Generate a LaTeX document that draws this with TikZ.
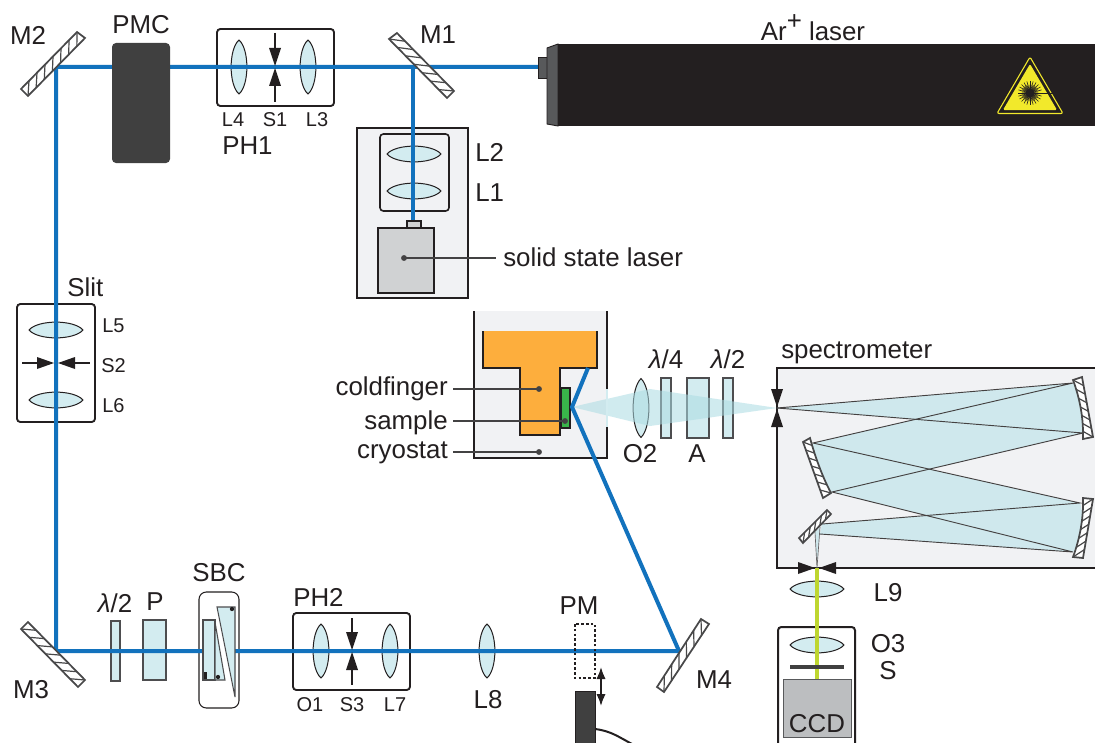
\documentclass[tikz,border=0pt]{standalone}
\usepackage{fontspec}
\setmainfont{Liberation Sans}
\usetikzlibrary{arrows.meta,calc}
\definecolor{ink}{HTML}{231F20}
\definecolor{beam}{HTML}{1272BD}
\definecolor{glass}{HTML}{D3ECF0}
\definecolor{cone}{HTML}{ABDCE3}
\definecolor{lightgray}{HTML}{F1F2F4}
\definecolor{midgray}{HTML}{D0D2D3}
\definecolor{darkbox}{HTML}{404040}
\definecolor{noseg}{HTML}{58595B}
\definecolor{warnyellow}{HTML}{F2E92B}
\definecolor{spec}{HTML}{CFE8ED}
\definecolor{ccdgray}{HTML}{BCBEC0}
\definecolor{finger}{HTML}{FDAE3D}
\definecolor{samplegreen}{HTML}{39B54A}
\definecolor{lime}{HTML}{BED630}
\tikzset{
  lab/.style={font=\fontsize{19.4}{21}\selectfont,text=ink,inner sep=0pt},
  smalllab/.style={font=\fontsize{15}{17}\selectfont,text=ink,inner sep=0pt},
  lensstyle/.style={draw=ink,line width=0.75pt,fill=glass},
  vlens/.pic={\path[lensstyle] (0,-27) .. controls (-10.5,-18) and (-10.5,18) .. (0,27) .. controls (10.5,18) and (10.5,-18) .. (0,-27) -- cycle;},
  beamline/.style={draw=beam,line width=3pt},
  holder/.style={draw=ink,line width=1.4pt,rounded corners=2.5pt},
  plate/.style={draw=noseg!80!ink,line width=1pt,fill=glass},
  mirrorbox/.style={draw=noseg!70!ink,line width=1.3pt,fill=white},
  hatchline/.style={draw=noseg!70!ink,line width=0.9pt},
  stem/.style={draw=ink,line width=1.1pt},
  tip/.style={fill=ink},
  leader/.style={draw=noseg!60!ink,line width=1.2pt},
  ray/.style={draw=ink!85,line width=0.7pt},
}
\newcommand{\hatchedmirror}[5]{%
  \path[mirrorbox] #1 -- #2 -- #3 -- #4 -- cycle;
  \foreach \i in {1,...,#5}{
    \pgfmathsetmacro{\ta}{(\i-1)/#5}
    \pgfmathsetmacro{\tb}{\i/#5}
    \path[hatchline] ($#1!\ta!#4$) -- ($#2!\tb!#3$);
  }
}
\newcommand{\curvedmirror}[8]{% inner-a, outer-b, outer-c, inner-d, ctl1, ctl2, n, swap
  \begin{scope}
    \path[fill=white] #1 .. controls #5 and #6 .. #4 -- #3 -- #2 -- cycle;
    \clip #1 .. controls #5 and #6 .. #4 -- #3 -- #2 -- cycle;
    \foreach \i in {1,...,#7}{
      \pgfmathsetmacro{\ta}{(\i-1+#8)/#7}
      \pgfmathsetmacro{\tb}{(\i-#8)/#7}
      \path[hatchline] ($#1!\ta!#4$) -- ($#2!\tb!#3$);
    }
  \end{scope}
  \path[draw=noseg!70!ink,line width=1.3pt] #1 .. controls #5 and #6 .. #4 -- #3 -- #2 -- cycle;
}
\begin{document}
\begin{tikzpicture}[x=0.75pt,y=-0.75pt]
\useasboundingbox (0,0) rectangle (1095,742);
\clip (0,0) rectangle (1095,742);
\fill[white] (0,0) rectangle (1095,742);

% ---- named beam points
\coordinate (laserexit) at (538,67);
\coordinate (bm1) at (413,67);
\coordinate (bm2) at (56,67);
\coordinate (bm3) at (56,651);
\coordinate (bm4) at (679,651);
\coordinate (bsample) at (572,407);
\coordinate (bup) at (588,368);
\coordinate (bsolid) at (413,221);
\coordinate (slitin) at (777,408);
\coordinate (slitout) at (817,568);

% ---- solid state laser enclosure
\path[draw=ink,line width=1.2pt,fill=lightgray] (357,128) rectangle (468,298);
\path[holder,line width=1.2pt,fill=lightgray] (380,134) rectangle (449,211);
\pic[rotate=90] at (414,154) {vlens};
\pic[rotate=90] at (414,191) {vlens};

% ---- holders and lenses
\path[holder] (217,29) rectangle (334,106);
\pic at (239,67) {vlens};
\pic at (308,67) {vlens};
\path[holder] (17,304) rectangle (95,422);
\pic[rotate=90] at (56,330) {vlens};
\pic[rotate=90] at (56,400) {vlens};
\path[holder] (293,613) rectangle (410,690);
\pic at (321,651) {vlens};
\pic at (390,651) {vlens};
\pic at (487,651) {vlens};

% ---- polarisation optics, bottom row
\path[plate] (111,621) rectangle (120,681);
\path[plate] (143,620) rectangle (166,680);
\path[draw=ink,line width=0.8pt,fill=white,rounded corners=5.5pt] (199,592) rectangle (239,708);

% ---- cryostat
\path[fill=lightgray] (474,311) rectangle (607,458);
\path[draw=ink,line width=1.4pt] (474,311) -- (474,458) -- (607,458) -- (607,427);
\path[draw=ink,line width=1.4pt] (607,311) -- (607,389);
\path[fill=finger] (483,331) -- (597,331) -- (597,368) -- (560,368) -- (560,435) -- (520,435) -- (520,368) -- (483,368) -- cycle;
\path[draw=ink,line width=1.1pt] (483,331) -- (483,368) -- (520,368) -- (520,435) -- (560,435) -- (560,368) -- (597,368) -- (597,331);
\path[draw=ink,line width=1.3pt,fill=samplegreen] (561,388) rectangle (570,428);

% ---- spectrometer box
\path[draw=ink,line width=1.2pt,fill=lightgray] (777,368) rectangle (1100,568);

% ---- light in the spectrometer
\path[fill=spec] (slitin) -- (1073,383) -- (1086,408) -- (1083,433) -- cycle;
\path[fill=spec] (1073,383) -- (813,443) -- (816,467) -- (832,492) -- (1083,433) -- (1086,408) -- cycle;
\path[fill=spec] (813,443) -- (1080,503) -- (1085,528) -- (1073,552) -- (832,492) -- (816,467) -- cycle;
\path[fill=spec] (1080,503) -- (822,524) -- (820,534) -- (1073,552) -- (1085,528) -- cycle;
\path[fill=spec] (815,532) -- (820,527) -- (slitout) -- cycle;
\path[ray] (slitin) -- (1073,383) -- (813,443) -- (1080,503) -- (822,524);
\path[ray] (slitin) -- (1083,433) -- (832,492) -- (1073,552) -- (820,534);
\path[draw=ink!70,line width=0.5pt] (815,532) -- (slitout) -- (820,527);

% ---- curved spectrometer mirrors
\curvedmirror{(1073,380)}{(1082,377)}{(1093,437)}{(1083,439)}{(1080,399)}{(1083.6,418.6)}{7}{0}
\curvedmirror{(810,438)}{(803,442)}{(823,498)}{(831,493)}{(815.2,456.9)}{(821.8,475.5)}{7}{1}
\curvedmirror{(1083,498)}{(1093,499)}{(1083,558)}{(1073,557)}{(1083.6,518)}{(1080,538)}{7}{1}
\hatchedmirror{(803,543)}{(799,538)}{(827,510)}{(831,514)}{5}

% ---- detection optics
\pic at (641,408) [yscale=1.09] {vlens};
\path[plate] (661,378) rectangle (671,438);
\path[plate] (687,378) rectangle (709,438);
\path[plate] (723,378) rectangle (733,438);
\path[fill=cone,opacity=0.55] (bsample) -- (650,389) -- (slitin) -- (650,426) -- cycle;
\path[draw=glass,line width=1.2pt] (607,389) -- (607,427);

% ---- CCD
\path[holder,fill=white,line width=1.5pt] (778,627) rectangle (855,750);
\path[fill=ccdgray,draw=noseg,line width=0.6pt] (783,679) rectangle (851,737);
\pic[rotate=90] at (817,589) {vlens};
\pic[rotate=90] at (817,645) {vlens};
\path[draw=lime,line width=2.4pt] (slitout) -- (817,679);
\path[draw=darkbox,line width=2.6pt] (790,667) -- (844,667);

% ---- beams
\path[beamline,line join=miter] (laserexit) -- (bm2) -- (bm3) -- (bm4) -- (bsample) -- (bup);
\path[beamline] (bm1) -- (bsolid);

% ---- SBC insides (over the beam)
\path[fill=white] (215,612) rectangle (235,700);
\path[plate,line width=0.8pt] (203,620) rectangle (215,680);
\path[plate,line width=0.8pt] (215,622) -- (225,680) -- (215,680) -- cycle;
\path[plate,line width=0.8pt] (217,607) -- (235,607) -- (235,697) -- cycle;
\fill[ink] (232,609) circle (1.6pt);
\fill[ink] (218,677) circle (1.6pt);
\fill[ink] (204,672) rectangle (206.5,679);

% ---- mirrors
\hatchedmirror{(389,39)}{(397,33)}{(454,91)}{(447,98)}{7}
\hatchedmirror{(28,96)}{(21,89)}{(77,32)}{(85,38)}{7}
\hatchedmirror{(21,629)}{(28,622)}{(85,680)}{(78,687)}{7}
\hatchedmirror{(664,692)}{(657,687)}{(701,619)}{(709,624)}{6}

% ---- PMC, solid laser body
\path[fill=darkbox,rounded corners=3pt] (112,43) rectangle (170,163);
\path[draw=ink,line width=0.8pt,fill=midgray] (407,221) rectangle (421,228);
\path[draw=ink,line width=0.8pt,fill=midgray] (378,228) rectangle (434,293);

% ---- Ar+ laser
\path[fill=noseg,draw=ink,line width=0.7pt] (538,57) rectangle (547,78);
\path[fill=noseg,draw=ink,line width=0.7pt] (547,48) -- (558,44) -- (558,126) -- (547,124) -- cycle;
\path[fill=ink] (558,44) rectangle (1100,126);
\path[fill=ink,draw=warnyellow,line width=0.8pt,line join=round,rounded corners=1.5pt] (1030,57) -- (1063,113.5) -- (997,113.5) -- cycle;
\path[fill=warnyellow,line join=round,rounded corners=1pt] (1030,64) -- (1057,110) -- (1003,110) -- cycle;
\foreach \a in {0,15,...,345}{
  \path[draw=ink,line width=0.45pt] (1030,93) -- ++(\a:12);
}
\foreach \a in {7.5,22.5,...,352.5}{
  \path[draw=ink,line width=0.45pt] (1030,93) -- ++(\a:8.5);
}
\path[fill=ink] (1030,93) circle (3.4pt);
\path[draw=ink,line width=0.7pt] (1018,93) -- (1053,93);
\path[draw=ink,line width=0.7pt] (1030,81) -- (1030,105);

% ---- slits and arrows
\path[stem] (275,33) -- (275,50);
\path[tip] (269,48) -- (281,48) -- (275,66) -- cycle;
\path[stem] (275,84) -- (275,102);
\path[tip] (269,86) -- (281,86) -- (275,68) -- cycle;
\path[stem] (352,618) -- (352,634);
\path[tip] (346,632) -- (358,632) -- (352,650) -- cycle;
\path[stem] (352,668) -- (352,685);
\path[tip] (346,670) -- (358,670) -- (352,652) -- cycle;
\path[stem] (22,363) -- (39,363);
\path[tip] (37,357) -- (37,369) -- (54,363) -- cycle;
\path[stem] (73,363) -- (90,363);
\path[tip] (75,357) -- (75,369) -- (58,363) -- cycle;
\path[tip] (771,389) -- (783,389) -- (777,407) -- cycle;
\path[tip] (771,427) -- (783,427) -- (777,409) -- cycle;
\path[tip] (798,562) -- (798,574) -- (815,568) -- cycle;
\path[tip] (836,562) -- (836,574) -- (819,568) -- cycle;

% ---- power meter
\path[draw=ink,line width=0.8pt,dash pattern=on 2pt off 1.6pt] (575,624) rectangle (595,678);
\path[fill=darkbox,draw=ink,line width=0.5pt] (575,691) rectangle (595,750);
\path[draw=ink,line width=1.3pt,{Latex[length=9pt,width=7pt]}-{Latex[length=9pt,width=7pt]}] (601,667) -- (601,706);
\path[draw=ink,line width=1.5pt] (595,729) .. controls (612,731) and (620,738) .. (634,745);

% ---- leaders
\path[leader] (453,389) -- (539,389);
\fill[noseg!60!ink] (539,389) circle (2.2pt);
\path[leader] (453,421) -- (565,421);
\fill[noseg!60!ink] (565,421) circle (2.2pt);
\path[leader] (453,452) -- (539,452);
\fill[noseg!60!ink] (539,452) circle (2.2pt);
\path[leader] (404,258) -- (496,258);
\fill[noseg!60!ink] (404,258) circle (2.2pt);

% ---- labels
\node[lab] (tm2) at (28,35) {M2};
\node[lab] (tpmc) at (141,25) {PMC};
\node[lab] (tm1) at (438,35) {M1};
\node[lab,anchor=center] (tar) at (813,28) {Ar\raisebox{0.42em}{+} laser};
\node[smalllab] (tl4) at (233,120) {L4};
\node[smalllab] (ts1) at (275,120) {S1};
\node[smalllab] (tl3) at (317,120) {L3};
\node[lab,anchor=west] (tph1) at (222,146) {PH1};
\node[lab,anchor=west] (tl2) at (475,152) {L2};
\node[lab,anchor=west] (tl1) at (475,193) {L1};
\node[lab,anchor=west] (tsolid) at (503,257) {solid state laser};
\node[lab,anchor=west] (tslit) at (67,287) {Slit};
\node[smalllab,anchor=west] (tl5) at (102,326) {L5};
\node[smalllab,anchor=west] (ts2) at (101,366) {S2};
\node[smalllab,anchor=west] (tl6) at (102,406) {L6};
\node[lab,anchor=east] (tcold) at (448,389) {coldfinger};
\node[lab,anchor=east] (tsample) at (448,423) {sample};
\node[lab,anchor=east] (tcryo) at (448,453) {cryostat};
\node[lab] (tq) at (666,359) {\textit{λ}/4};
\node[lab] (th2) at (728,359) {\textit{λ}/2};
\node[lab] (to2) at (640,454) {O2};
\node[lab] (ta) at (697,454) {A};
\node[lab,anchor=west] (tspec) at (781,353) {spectrometer};
\node[lab] (tl9) at (888,593) {L9};
\node[lab] (to3) at (888,644) {O3};
\node[lab] (ts) at (888,671) {S};
\node[lab] (tccd) at (817,724) {CCD};
\node[lab] (th1) at (115,603) {\textit{λ}/2};
\node[lab] (tp) at (155,602) {P};
\node[lab] (tsbc) at (219,573) {SBC};
\node[lab,anchor=west] (tph2) at (293,597) {PH2};
\node[smalllab] (to1) at (310,705) {O1};
\node[smalllab] (ts3) at (352,705) {S3};
\node[smalllab] (tl7) at (395,705) {L7};
\node[lab] (tl8) at (488,700) {L8};
\node[lab] (tpm) at (579,606) {PM};
\node[lab] (tm4) at (714,680) {M4};
\node[lab] (tm3) at (31,690) {M3};
\end{tikzpicture}
\end{document}
